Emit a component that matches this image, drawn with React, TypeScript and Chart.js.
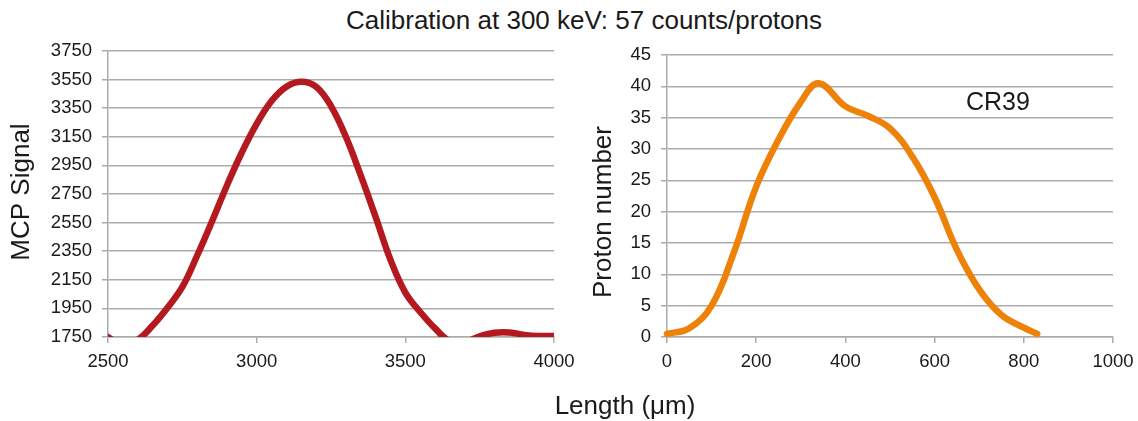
import React, { useEffect, useRef } from "react";
import { Chart, registerables } from "chart.js";

Chart.register(...registerables);

const FONT = "'Liberation Sans', Arial, Helvetica, sans-serif";

const TITLE = "Calibration at 300 keV: 57 counts/protons";
const X_TITLE = "Length (μm)";
const MCP_TITLE = "MCP Signal";
const PROTON_TITLE = "Proton number";
const CR39_LABEL = "CR39";

// Left panel: MCP signal vs length
const mcpLength = [2500, 2550, 2600, 2650, 2700, 2750, 2800, 2850, 2900, 2950, 3000, 3050, 3100, 3150, 3200, 3250, 3300, 3350, 3400, 3450, 3500, 3550, 3600, 3650, 3700, 3750, 3800, 3850, 3900, 3950, 4000];
const mcpSignal = [1750, 1690, 1730, 1830, 1955, 2100, 2320, 2560, 2810, 3040, 3240, 3400, 3500, 3535, 3500, 3365, 3150, 2880, 2590, 2290, 2060, 1925, 1810, 1720, 1715, 1755, 1780, 1782, 1765, 1757, 1757];

// Right panel: CR39 proton number vs length
const cr39Length = [0, 50, 100, 150, 200, 250, 300, 340, 400, 450, 500, 550, 600, 650, 700, 750, 800, 830];
const cr39Protons = [0.5, 1.4, 5, 13.5, 24, 31.5, 37.5, 40.5, 36.8, 35.3, 33.3, 28.8, 22.3, 13.9, 7.6, 3.5, 1.5, 0.5];

// Ticks
const mcpYMin = 1750, mcpYMax = 3750, mcpYStep = 200;
const mcpXMin = 2500, mcpXMax = 4000, mcpXStep = 500;
const cr39YMin = 0, cr39YMax = 45, cr39YStep = 5;
const cr39XMin = 0, cr39XMax = 1000, cr39XStep = 200;

// Label anchor in data coordinates
const cr39LabelX = 742;
const cr39LabelY = 37.3;

const GRID = "#ABABAB";
const TEXT = "#1A1A1A";

type PanelOpts = {
  xs: number[];
  ys: number[];
  color: string;
  xMin: number; xMax: number; xStep: number;
  yMin: number; yMax: number; yStep: number;
  yTitle: string;
  yAxisWidth: number;
  titleOffset: number;
  titleShift: number;
  padding: { top: number; right: number; bottom: number; left: number };
  clip: any;
  plugins?: any[];
};

function yTitlePlugin(text: string, offset: number, shift: number) {
  return {
    id: "yTitle",
    afterDraw(chart: any) {
      const { ctx, chartArea, scales } = chart;
      const x = scales.y.left + offset;
      const y = (chartArea.top + chartArea.bottom) / 2 + shift;
      ctx.save();
      ctx.translate(x, y);
      ctx.rotate(-Math.PI / 2);
      ctx.font = `26px ${FONT}`;
      ctx.fillStyle = TEXT;
      ctx.textAlign = "center";
      ctx.textBaseline = "middle";
      ctx.fillText(text, 0, 0);
      ctx.restore();
    },
  };
}

function makeConfig(o: PanelOpts): any {
  return {
    type: "line",
    data: {
      datasets: [
        {
          data: o.xs.map((x, i) => ({ x, y: o.ys[i] })),
          borderColor: o.color,
          backgroundColor: o.color,
          borderWidth: 6.5,
          pointRadius: 0,
          tension: 0.4,
          borderCapStyle: "round",
          borderJoinStyle: "round",
          fill: false,
          clip: o.clip,
        },
      ],
    },
    options: {
      animation: false,
      responsive: true,
      maintainAspectRatio: false,
      layout: { padding: o.padding },
      plugins: { legend: { display: false }, tooltip: { enabled: false }, title: { display: false } },
      scales: {
        x: {
          type: "linear",
          min: o.xMin,
          max: o.xMax,
          afterFit: (s: any) => {
            s.height = 40;
            s.paddingLeft = 0;
            s.paddingRight = 0;
          },
          ticks: {
            stepSize: o.xStep,
            color: TEXT,
            font: { family: FONT, size: 18.5 },
            padding: 8,
            maxRotation: 0,
            autoSkip: false,
            callback: (v: any) => String(v),
          },
          grid: { drawOnChartArea: false, drawTicks: true, tickLength: 6, color: GRID, lineWidth: 1.5 },
          border: { display: true, color: GRID, width: 1.5 },
        },
        y: {
          type: "linear",
          min: o.yMin,
          max: o.yMax,
          afterFit: (s: any) => {
            s.width = o.yAxisWidth;
            s.paddingTop = 0;
            s.paddingBottom = 0;
          },
          ticks: {
            stepSize: o.yStep,
            color: TEXT,
            font: { family: FONT, size: 18.5 },
            padding: 10,
            autoSkip: false,
            callback: (v: any) => String(v),
          },
          grid: { drawOnChartArea: true, drawTicks: true, tickLength: 6, color: GRID, lineWidth: 1.5 },
          border: { display: true, color: GRID, width: 1.5 },
          title: { display: false },
        },
      },
    },
    plugins: [yTitlePlugin(o.yTitle, o.titleOffset, o.titleShift), ...(o.plugins || [])],
  };
}

const cr39LabelPlugin = {
  id: "cr39Label",
  afterDatasetsDraw(chart: any) {
    const { ctx, scales } = chart;
    ctx.save();
    ctx.font = `25px ${FONT}`;
    ctx.fillStyle = TEXT;
    ctx.textAlign = "center";
    ctx.textBaseline = "middle";
    ctx.fillText(CR39_LABEL, scales.x.getPixelForValue(cr39LabelX), scales.y.getPixelForValue(cr39LabelY));
    ctx.restore();
  },
};

function Panel({ config, style }: { config: any; style: React.CSSProperties }) {
  const ref = useRef<HTMLCanvasElement | null>(null);
  useEffect(() => {
    if (!ref.current) return;
    const chart = new Chart(ref.current, config);
    return () => chart.destroy();
  }, []);
  return (
    <div style={{ position: "absolute", ...style }}>
      <canvas ref={ref} />
    </div>
  );
}

export default function App() {
  const leftConfig = makeConfig({
    xs: mcpLength,
    ys: mcpSignal,
    color: "#B3191F",
    xMin: mcpXMin, xMax: mcpXMax, xStep: mcpXStep,
    yMin: mcpYMin, yMax: mcpYMax, yStep: mcpYStep,
    yTitle: MCP_TITLE,
    yAxisWidth: 108,
    titleOffset: 22,
    titleShift: -2,
    padding: { top: 51, right: 46, bottom: 44, left: 0 },
    clip: { left: 0, top: 10, right: 0, bottom: 0 },
  });
  const rightConfig = makeConfig({
    xs: cr39Length,
    ys: cr39Protons,
    color: "#EE8208",
    xMin: cr39XMin, xMax: cr39XMax, xStep: cr39XStep,
    yMin: cr39YMin, yMax: cr39YMax, yStep: cr39YStep,
    yTitle: PROTON_TITLE,
    yAxisWidth: 97,
    titleOffset: 34,
    titleShift: 16,
    padding: { top: 55, right: 25, bottom: 44, left: 0 },
    clip: 8,
    plugins: [cr39LabelPlugin],
  });

  return (
    <div
      style={{
        position: "absolute",
        left: 0,
        top: 0,
        width: 1138,
        height: 421,
        background: "#ffffff",
        fontFamily: FONT,
        color: TEXT,
        overflow: "hidden",
      }}
    >
      <div
        style={{
          position: "absolute",
          left: 584 - 350,
          width: 700,
          top: 5,
          lineHeight: "30px",
          fontSize: 26,
          textAlign: "center",
          whiteSpace: "nowrap",
        }}
      >
        {TITLE}
      </div>
      <Panel config={leftConfig} style={{ left: 0, top: 0, width: 600, height: 421 }} />
      <Panel config={rightConfig} style={{ left: 570, top: 0, width: 568, height: 421 }} />
      <div
        style={{
          position: "absolute",
          left: 625 - 150,
          width: 300,
          top: 390,
          lineHeight: "30px",
          fontSize: 26,
          textAlign: "center",
          whiteSpace: "nowrap",
        }}
      >
        {X_TITLE}
      </div>
    </div>
  );
}
